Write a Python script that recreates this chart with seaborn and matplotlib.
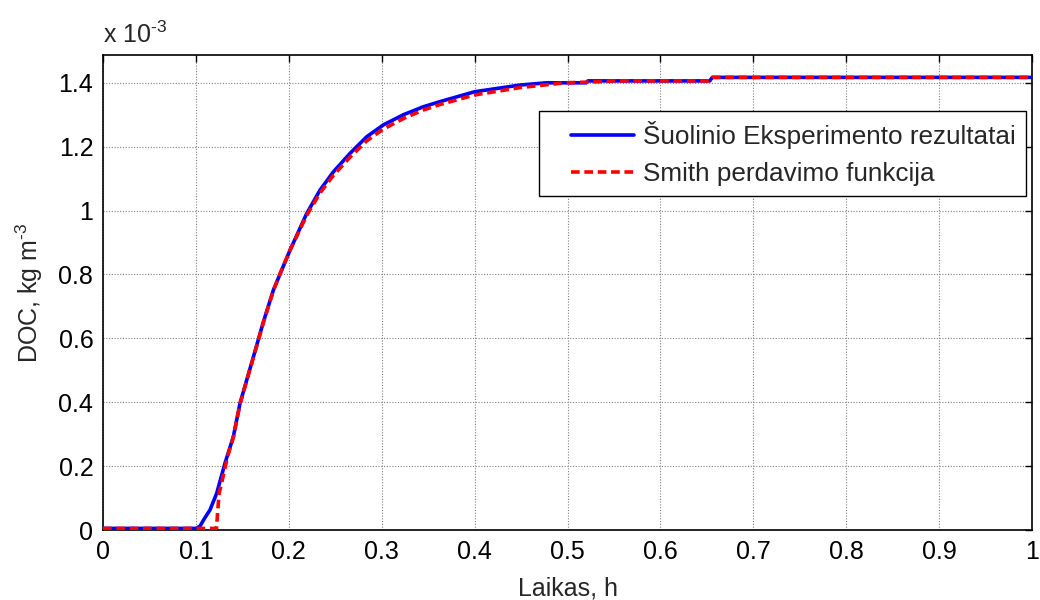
import matplotlib
matplotlib.use("Agg")
import matplotlib.pyplot as plt
from matplotlib.legend_handler import HandlerLine2D
import seaborn as sns
import pandas as pd

# ---- data (y in units of 1e-3 kg m^-3) ----
t_exp = [0.000, 0.100, 0.1044, 0.109, 0.1152, 0.1224, 0.1313, 0.1403, 0.1475,
         0.1619, 0.1727, 0.1834, 0.1924, 0.2013, 0.2193, 0.2336, 0.2479, 0.2659,
         0.2838, 0.3017, 0.3233, 0.3448, 0.3627, 0.400, 0.449, 0.4775, 0.520,
         0.522, 0.653, 0.656, 1.000]
y_exp = [0.005, 0.005, 0.012, 0.035, 0.063, 0.115, 0.209, 0.292, 0.397,
         0.542, 0.652, 0.751, 0.814, 0.876, 0.991, 1.064, 1.121, 1.179,
         1.231, 1.268, 1.300, 1.325, 1.341, 1.372, 1.393, 1.400, 1.400,
         1.406, 1.406, 1.417, 1.417]

t_smith = [0.000, 0.1222, 0.1235, 0.125, 0.1276, 0.134, 0.1403, 0.1475, 0.1619,
           0.1727, 0.1834, 0.1924, 0.2013, 0.2193, 0.2336, 0.2479, 0.2659, 0.2838,
           0.3017, 0.3233, 0.3448, 0.3627, 0.400, 0.449, 0.497, 0.530, 0.550,
           0.653, 0.656, 1.000]
y_smith = [0.005, 0.005, 0.060, 0.115, 0.146, 0.229, 0.290, 0.395, 0.540,
           0.650, 0.750, 0.815, 0.876, 0.985, 1.055, 1.110, 1.167, 1.218,
           1.255, 1.288, 1.315, 1.332, 1.362, 1.385, 1.400, 1.403, 1.406,
           1.406, 1.417, 1.417]

label_exp = "Šuolinio Eksperimento rezultatai"
label_smith = "Smith perdavimo funkcija"
x_ticks = [0, 0.1, 0.2, 0.3, 0.4, 0.5, 0.6, 0.7, 0.8, 0.9, 1]
x_ticklabels = ["0", "0.1", "0.2", "0.3", "0.4", "0.5", "0.6", "0.7", "0.8", "0.9", "1"]
y_ticks = [0, 0.2, 0.4, 0.6, 0.8, 1.0, 1.2, 1.4]
y_ticklabels = ["0", "0.2", "0.4", "0.6", "0.8", "1", "1.2", "1.4"]

sns.set_theme(style="white")
plt.rcParams["font.family"] = ["Liberation Sans", "DejaVu Sans"]
plt.rcParams["mathtext.fontset"] = "custom"
plt.rcParams["mathtext.rm"] = "Liberation Sans"
plt.rcParams["mathtext.it"] = "Liberation Sans"
plt.rcParams["mathtext.sf"] = "Liberation Sans"

FS = 18
LFS = 18.8

fig = plt.figure(figsize=(10.4, 6.0), dpi=100)
ax = fig.add_axes([103 / 1040, 70 / 600, 929 / 1040, 475.3 / 600])

df_exp = pd.DataFrame({"t": t_exp, "y": y_exp})
df_smith = pd.DataFrame({"t": t_smith, "y": y_smith})

sns.lineplot(data=df_exp, x="t", y="y", ax=ax, color="#0000ff", lw=2.6,
             sort=False, label=label_exp, zorder=3)
sns.lineplot(data=df_smith, x="t", y="y", ax=ax, color="#ff0000", lw=2.6,
             sort=False, label=label_smith, zorder=4, dashes=False)
ax.lines[1].set_linestyle((0, (2.4, 1.3)))

ax.set_xlim(0, 1)
ax.set_ylim(0, 1.488)
ax.set_xticks(x_ticks)
ax.set_xticklabels(x_ticklabels)
ax.set_yticks(y_ticks)
ax.set_yticklabels(y_ticklabels)

ax.grid(True, color="#808080", linestyle=(0, (1, 1.5)), linewidth=0.8)
ax.tick_params(direction="in", length=5, width=1, colors="black",
               top=True, right=True, labelsize=FS, pad=7)
for s in ax.spines.values():
    s.set_visible(True)
    s.set_color("black")
    s.set_linewidth(1.2)

ax.set_xlabel("Laikas, h", fontsize=FS, labelpad=9)
ax.set_ylabel(r"DOC, kg m$^{\text{-3}}$", fontsize=FS, labelpad=10)
ax.text(0.0, 1.0246, r"x 10$^{\text{-3}}$", transform=ax.transAxes, fontsize=FS,
        ha="left", va="baseline")

hmap = {ln: HandlerLine2D(xpad=0.87) for ln in ax.lines}
leg = ax.legend(loc="upper right", bbox_to_anchor=(0.994, 0.8815),
                borderaxespad=0, fontsize=LFS, frameon=True, fancybox=False,
                handlelength=3.28, handletextpad=0.35, borderpad=0.39,
                labelspacing=0.5, handler_map=hmap)
leg.get_frame().set_edgecolor("black")
leg.get_frame().set_linewidth(1.0)
leg.get_frame().set_alpha(1)

fig.savefig("out.png", dpi=100, facecolor="white")
